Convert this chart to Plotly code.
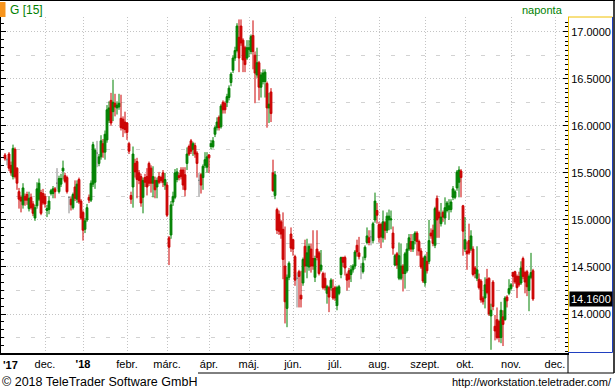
import numpy as np
import pandas as pd
import plotly.graph_objects as go

# ---------------- data ----------------
HOLIDAYS = ["2017-12-25", "2017-12-26", "2018-01-01", "2018-03-30", "2018-04-02", "2018-05-01"]
FIRST_DAY = "2017-11-03"
LAST_DAY = "2018-11-16"

opens = [
    15.69, 15.64, 15.70, 15.58, 15.46, 15.75, 15.55, 15.30, 15.24, 15.16, 15.25, 15.27, 15.12, 15.24, 15.17,
    15.02, 15.15, 15.22, 15.29, 15.28, 15.25, 15.10, 15.11, 15.28, 15.28, 15.33, 15.39, 15.30, 15.38, 15.52,
    15.47, 15.45, 15.24, 15.22, 15.13, 15.35, 15.22, 15.43, 15.20, 15.08, 14.90, 15.00, 15.24, 15.21, 15.38,
    15.40, 15.71, 15.60, 15.67, 15.81, 15.72, 15.85, 16.06, 16.27, 16.15, 16.24, 16.19, 16.20, 16.08, 16.07,
    16.04, 16.03, 15.81, 15.26, 15.35, 15.60, 15.62, 15.50, 15.46, 15.24, 15.45, 15.46, 15.60, 15.55, 15.39,
    15.42, 15.35, 15.46, 15.45, 15.50, 15.37, 15.37, 14.81, 14.84, 15.19, 15.24, 15.43, 15.47, 15.53, 15.53,
    15.48, 15.60, 15.78,
    15.84, 15.75, 15.79, 15.71, 15.42, 15.48, 15.45, 15.58, 15.56, 15.69, 15.78, 15.78, 15.91, 15.98, 16.09,
    15.99, 16.25, 16.24, 16.25, 16.30, 16.46, 16.59, 16.72, 16.80, 16.94, 17.06, 16.91, 16.83, 16.72, 16.81,
    16.79, 16.96, 16.75, 16.54, 16.67, 16.41, 16.47, 16.47, 16.45, 16.19, 16.36, 15.50, 15.26, 15.11, 15.06,
    14.98, 14.90,
    14.51, 14.06, 14.39, 14.85, 14.79, 14.61, 14.38, 14.45, 14.20, 14.33, 14.72, 14.51, 14.50, 14.69, 14.59,
    14.39, 14.69, 14.65, 14.47, 14.43, 14.38, 14.22, 14.28, 14.28, 14.27, 14.28, 14.09, 14.22, 14.42, 14.60,
    14.60, 14.42, 14.46, 14.42, 14.47, 14.51, 14.73, 14.65, 14.50, 14.45, 14.60, 14.76, 14.81, 14.82, 14.78,
    15.00, 15.10, 14.95,
    14.95, 14.81, 14.97, 14.89, 15.00, 15.00, 14.86, 14.52, 14.64, 14.38, 14.38, 14.51, 14.43, 14.46, 14.69,
    14.77, 14.69, 14.78, 14.86, 14.77, 14.67, 14.59, 14.33, 14.56, 14.56, 14.86, 14.89, 14.73, 15.23, 15.08,
    14.96, 15.08, 15.02, 15.10, 15.11, 15.11, 15.24, 15.24, 15.34, 15.40, 15.52, 15.15, 14.69, 14.67, 14.78,
    14.69, 14.69,
    14.49, 14.38, 14.37, 14.35, 14.17, 14.17, 14.37, 14.38, 13.98, 14.34, 13.87, 13.94, 13.92, 13.75, 13.97,
    13.94, 14.18, 14.22, 14.27, 14.44, 14.45, 14.40, 14.40, 14.33, 14.59, 14.44, 14.45, 14.25, 14.39, 14.46,
]
highs = [
    15.71, 15.66, 15.72, 15.62, 15.80, 15.77, 15.56, 15.34, 15.26, 15.39, 15.28, 15.30, 15.30, 15.28, 15.20,
    15.16, 15.40, 15.44, 15.32, 15.33, 15.28, 15.16, 15.25, 15.33, 15.36, 15.35, 15.55, 15.47, 15.49, 15.63,
    15.50, 15.47, 15.25, 15.25, 15.29, 15.42, 15.42, 15.45, 15.22, 15.10, 15.02, 15.17, 15.27, 15.42, 15.83,
    15.76, 15.84, 15.70, 15.90, 15.86, 15.95, 16.22, 16.26, 16.35, 16.49, 16.34, 16.26, 16.34, 16.33, 16.10,
    16.15, 16.04, 15.83, 15.30, 15.78, 15.65, 15.66, 15.53, 15.49, 15.45, 15.49, 15.55, 15.62, 15.58, 15.57,
    15.46, 15.45, 15.51, 15.47, 15.53, 15.50, 15.40, 14.83, 15.20, 15.30, 15.54, 15.55, 15.50, 15.56, 15.56,
    15.56, 15.77, 15.80,
    15.86, 15.83, 15.82, 15.73, 15.50, 15.50, 15.59, 15.72, 15.72, 15.70, 15.85, 15.88, 16.00, 16.09, 16.11,
    16.23, 16.27, 16.26, 16.34, 16.43, 16.57, 16.75, 16.84, 17.09, 17.13, 17.13, 16.93, 16.85, 16.91, 16.91,
    16.97, 17.12, 16.79, 16.83, 16.69, 16.57, 16.60, 16.60, 16.47, 16.35, 16.40, 15.64, 15.52, 15.13, 15.10,
    15.00, 15.08,
    14.93, 14.42, 14.56, 14.92, 14.80, 14.63, 14.44, 14.47, 14.46, 14.60, 14.79, 14.80, 14.75, 14.75, 14.89,
    14.62, 14.89, 14.67, 14.68, 14.45, 14.44, 14.31, 14.30, 14.38, 14.37, 14.30, 14.30, 14.31, 14.61, 14.61,
    14.62, 14.44, 14.49, 14.52, 14.53, 14.68, 14.79, 14.82, 14.54, 14.61, 14.73, 14.92, 14.89, 14.89, 14.98,
    15.29, 15.18, 14.98,
    14.97, 15.10, 14.99, 15.08, 15.11, 15.10, 14.93, 14.64, 14.66, 14.76, 14.75, 14.53, 14.66, 14.75, 14.85,
    14.85, 14.85, 14.88, 14.88, 14.79, 14.70, 14.61, 14.63, 14.66, 15.00, 14.91, 14.95, 15.14, 15.26, 15.10,
    15.18, 15.10, 15.24, 15.20, 15.22, 15.22, 15.36, 15.32, 15.53, 15.57, 15.54, 15.16, 15.03, 14.77, 14.96,
    14.89, 14.72,
    14.51, 14.72, 14.43, 14.37, 14.19, 14.39, 14.48, 14.39, 14.11, 14.36, 13.99, 14.07, 13.94, 14.13, 14.04,
    14.19, 14.20, 14.37, 14.33, 14.45, 14.46, 14.42, 14.45, 14.56, 14.61, 14.46, 14.47, 14.42, 14.65, 14.48,
]
lows = [
    15.63, 15.58, 15.52, 15.47, 15.43, 15.44, 15.32, 15.12, 15.08, 15.12, 15.15, 15.16, 15.09, 15.11, 15.04,
    14.99, 15.12, 15.20, 15.05, 15.16, 15.13, 15.03, 15.06, 15.26, 15.23, 15.23, 15.33, 15.28, 15.35, 15.43,
    15.39, 15.28, 15.07, 15.10, 15.11, 15.20, 15.18, 15.17, 15.00, 14.78, 14.86, 14.98, 15.18, 15.19, 15.35,
    15.33, 15.56, 15.57, 15.64, 15.66, 15.64, 15.82, 16.03, 16.00, 16.05, 16.10, 16.12, 16.17, 15.95, 15.88,
    15.92, 15.85, 15.70, 15.17, 15.13, 15.45, 15.23, 15.38, 15.14, 15.07, 15.35, 15.26, 15.36, 15.29, 15.24,
    15.23, 15.23, 15.38, 15.39, 15.35, 15.32, 15.03, 14.52, 14.80, 15.15, 15.22, 15.40, 15.42, 15.43, 15.32,
    15.25, 15.53, 15.68,
    15.70, 15.68, 15.66, 15.45, 15.25, 15.28, 15.32, 15.55, 15.50, 15.50, 15.75, 15.76, 15.88, 15.95, 15.95,
    15.97, 16.13, 16.13, 16.20, 16.27, 16.42, 16.56, 16.69, 16.78, 16.57, 16.85, 16.57, 16.57, 16.70, 16.73,
    16.76, 16.60, 16.24, 16.51, 16.27, 16.30, 16.44, 16.30, 15.98, 16.03, 16.04, 15.30, 15.22, 14.85, 14.84,
    14.80, 14.37,
    13.90, 13.86, 14.36, 14.66, 14.62, 14.30, 14.07, 14.07, 14.07, 14.30, 14.44, 14.38, 14.46, 14.44, 14.47,
    14.34, 14.57, 14.41, 14.45, 14.26, 14.25, 14.11, 14.02, 14.25, 14.15, 14.14, 14.04, 14.20, 14.38, 14.50,
    14.41, 14.25, 14.28, 14.34, 14.44, 14.48, 14.61, 14.58, 14.37, 14.43, 14.57, 14.74, 14.73, 14.73, 14.75,
    14.97, 14.96, 14.76,
    14.70, 14.76, 14.79, 14.86, 14.89, 14.90, 14.63, 14.51, 14.48, 14.36, 14.36, 14.24, 14.27, 14.44, 14.67,
    14.66, 14.66, 14.74, 14.62, 14.62, 14.48, 14.33, 14.29, 14.43, 14.53, 14.80, 14.72, 14.70, 14.81, 14.81,
    14.93, 14.98, 14.95, 15.08, 15.00, 15.08, 15.21, 15.22, 15.31, 15.24, 15.24, 14.62, 14.66, 14.47, 14.63,
    14.67, 14.40,
    14.38, 14.35, 14.26, 14.12, 14.10, 14.06, 14.21, 13.98, 13.62, 14.04, 13.72, 13.73, 13.70, 13.69, 13.66,
    13.93, 14.07, 14.20, 14.25, 14.29, 14.32, 14.17, 14.29, 14.31, 14.37, 14.22, 14.19, 14.03, 14.37, 14.14,
]
closes = [
    15.65, 15.64, 15.55, 15.50, 15.76, 15.46, 15.39, 15.22, 15.20, 15.34, 15.21, 15.21, 15.23, 15.13, 15.07,
    15.13, 15.33, 15.39, 15.07, 15.18, 15.17, 15.12, 15.20, 15.31, 15.33, 15.30, 15.39, 15.44, 15.44, 15.55,
    15.41, 15.30, 15.24, 15.16, 15.27, 15.23, 15.38, 15.19, 15.02, 14.89, 14.99, 15.13, 15.21, 15.39, 15.80,
    15.74, 15.71, 15.67, 15.84, 15.72, 15.91, 16.17, 16.19, 16.03, 16.25, 16.20, 16.22, 16.24, 15.98, 15.97,
    15.96, 15.93, 15.73, 15.22, 15.70, 15.51, 15.43, 15.42, 15.18, 15.42, 15.40, 15.35, 15.39, 15.39, 15.46,
    15.32, 15.42, 15.40, 15.42, 15.40, 15.43, 15.05, 14.71, 15.16, 15.25, 15.50, 15.51, 15.45, 15.46, 15.37,
    15.32, 15.70, 15.70,
    15.73, 15.81, 15.70, 15.60, 15.42, 15.37, 15.57, 15.64, 15.67, 15.66, 15.81, 15.84, 15.98, 16.04, 15.98,
    16.21, 16.17, 16.17, 16.31, 16.40, 16.55, 16.72, 16.80, 17.06, 16.72, 16.88, 16.70, 16.65, 16.83, 16.83,
    16.95, 16.79, 16.56, 16.67, 16.41, 16.54, 16.56, 16.57, 16.19, 16.23, 16.13, 15.31, 15.48, 14.89, 14.88,
    14.85, 14.58,
    14.13, 14.39, 14.54, 14.70, 14.69, 14.36, 14.38, 14.40, 14.16, 14.58, 14.51, 14.65, 14.72, 14.51, 14.51,
    14.59, 14.60, 14.43, 14.52, 14.28, 14.28, 14.29, 14.18, 14.36, 14.17, 14.17, 14.28, 14.29, 14.60, 14.55,
    14.49, 14.36, 14.37, 14.47, 14.51, 14.66, 14.66, 14.61, 14.50, 14.54, 14.71, 14.83, 14.76, 14.82, 14.96,
    15.20, 15.05, 14.81,
    14.82, 14.98, 14.89, 15.04, 15.04, 15.01, 14.70, 14.62, 14.52, 14.62, 14.51, 14.43, 14.64, 14.69, 14.81,
    14.69, 14.77, 14.86, 14.77, 14.67, 14.50, 14.35, 14.61, 14.46, 14.78, 14.83, 14.75, 15.12, 15.00, 15.02,
    15.03, 15.03, 15.13, 15.18, 15.15, 15.19, 15.33, 15.30, 15.51, 15.53, 15.45, 14.88, 14.79, 14.64, 14.65,
    14.83, 14.42,
    14.43, 14.47, 14.28, 14.15, 14.13, 14.31, 14.23, 14.00, 14.04, 14.08, 13.82, 13.75, 13.75, 14.04, 13.89,
    14.17, 14.14, 14.27, 14.31, 14.40, 14.34, 14.28, 14.31, 14.49, 14.40, 14.34, 14.29, 14.40, 14.44, 14.16,
]

month_labels = ["'17", "dec.", "'18", "febr.", "márc.", "ápr.", "máj.", "jún.",
                "júl.", "aug.", "szept.", "okt.", "nov.", "dec."]
y_tick_start, y_tick_step = 14.0, 0.5
header_left = "G [15]"
header_right = "naponta"
footer_left = "© 2018 TeleTrader Software GmbH"
footer_right = "http://workstation.teletrader.com/"

# ---------------- preparation ----------------
cal = pd.bdate_range("2017-11-01", "2018-12-31", freq="C", holidays=HOLIDAYS)
dates = cal[(cal >= FIRST_DAY) & (cal <= LAST_DAY)]
n = len(opens)
if not (len(dates) == n == len(highs) == len(lows) == len(closes)):
    raise SystemExit(f"length mismatch {len(dates)} {len(opens)} {len(highs)} {len(lows)} {len(closes)}")
pos = np.asarray(cal.get_indexer(dates))
month_start = [i for i in range(len(cal)) if i == 0 or cal[i].month != cal[i - 1].month]

o = np.array(opens); h = np.array(highs); l = np.array(lows); c = np.array(closes)
flat = np.isclose(o, c)
moving = ~flat

GREEN = "#008000"
RED = "#cc0000"
GRAY = "#888888"
GRID = "#c4c4c4"
FONT = "Liberation Sans, Arial, sans-serif"

# pixel helpers for decorations (plot area: x 1..568, y 17..353)
L, T, W, H = 1, 17, 567, 336
def px(x):
    return (x - L) / W
def py(y):
    return (T + H - y) / H

y_range = [13.586, 17.156]
x_range = [0, 283.5]

fig = go.Figure()
fig.add_trace(go.Candlestick(
    x=pos[moving], open=o[moving], high=h[moving], low=l[moving], close=c[moving],
    increasing=dict(line=dict(color=GREEN, width=1), fillcolor=GREEN),
    decreasing=dict(line=dict(color=RED, width=1), fillcolor=RED),
    whiskerwidth=0, hoverinfo="skip", showlegend=False))
fig.add_trace(go.Candlestick(
    x=pos[flat], open=o[flat], high=h[flat], low=l[flat], close=c[flat],
    increasing=dict(line=dict(color=GRAY, width=1), fillcolor=GRAY),
    decreasing=dict(line=dict(color=GRAY, width=1), fillcolor=GRAY),
    whiskerwidth=0, hoverinfo="skip", showlegend=False))
fig.add_trace(go.Scatter(x=[], y=[], yaxis="y2", showlegend=False))
fig.add_trace(go.Scatter(x=[], y=[], yaxis="y3", showlegend=False))

ticktext = [f"<b>{t}</b>" if t.startswith("'") else t for t in month_labels]

fig.update_layout(
    width=615, height=390,
    margin=dict(l=L, r=615 - L - W, t=T, b=390 - T - H, pad=0),
    paper_bgcolor="white", plot_bgcolor="white",
    showlegend=False, boxgap=0.1, boxgroupgap=0,
    font=dict(family=FONT, size=11, color="black"),
    xaxis=dict(range=x_range, tickvals=month_start[1:], ticktext=ticktext[1:],
               showgrid=True, gridcolor=GRID, griddash="1px,2px", gridwidth=1,
               showline=True, linecolor="black", linewidth=2, ticks="",
               zeroline=False, rangeslider=dict(visible=False),
               tickfont=dict(size=11, family=FONT, color="black")),
    yaxis=dict(side="right", range=y_range, tick0=y_tick_start, dtick=y_tick_step,
               tickformat=".4f", showgrid=True, gridcolor=GRID, griddash="1px,2px",
               ticks="inside", ticklen=5, tickcolor="black", tickwidth=1,
               showline=True, linecolor="#f0c000", linewidth=1, zeroline=False,
               minor=dict(ticks="inside", ticklen=3, dtick=0.05, tickcolor="black", showgrid=False),
               tickfont=dict(size=11, family=FONT, color="black")),
    yaxis2=dict(overlaying="y", side="right", range=y_range, tick0=y_tick_start - 0.25,
                dtick=y_tick_step, showgrid=True, gridcolor="#d2d2d2", griddash="4px,11px",
                showticklabels=False, ticks="", zeroline=False, showline=False),
    yaxis3=dict(overlaying="y", side="left", range=y_range, tick0=y_tick_start, dtick=y_tick_step,
                ticks="inside", ticklen=5, tickcolor="black", tickwidth=1,
                minor=dict(ticks="inside", ticklen=3, dtick=y_tick_step / 6, tickcolor="black"),
                showgrid=False, showticklabels=False, showline=True, linecolor="black",
                linewidth=2, zeroline=False),
)

annotations = [
    dict(text=header_left, xref="paper", yref="paper", x=px(8), y=py(10), xanchor="left",
         yanchor="middle", showarrow=False, font=dict(size=12, color=GREEN, family=FONT)),
    dict(text=header_right, xref="paper", yref="paper", x=px(565), y=py(10), xanchor="right",
         yanchor="middle", showarrow=False, font=dict(size=11, color=GREEN, family=FONT)),
    dict(text=ticktext[0], xref="x", yref="paper", x=month_start[0], y=py(365), xanchor="left",
         yanchor="middle", showarrow=False, font=dict(size=11, color="black", family=FONT)),
    dict(text=f"{closes[-1]:.4f}", xref="paper", yref="y", x=1, y=closes[-1], xanchor="left",
         xshift=1, yanchor="middle", showarrow=False, bgcolor="black", borderpad=1,
         font=dict(size=11, color="white", family=FONT)),
    dict(text=footer_left, xref="paper", yref="paper", x=px(0), y=py(382), xanchor="left",
         yanchor="middle", showarrow=False, font=dict(size=12.5, color="black", family=FONT)),
    dict(text=footer_right, xref="paper", yref="paper", x=px(614), y=py(382), xanchor="right",
         yanchor="middle", showarrow=False, font=dict(size=11, color="black", family=FONT)),
]
fig.update_layout(annotations=annotations)

def line(x0, y0, x1, y1, color, width=1):
    return dict(type="line", xref="paper", yref="paper", x0=px(x0), y0=py(y0),
                x1=px(x1), y1=py(y1), line=dict(color=color, width=width), layer="above")

shapes = [
    dict(type="rect", xref="paper", yref="paper", x0=px(0), x1=px(5.5), y0=py(17), y1=py(2),
         fillcolor="#f7941d", line=dict(width=0), layer="above"),
    line(0, 0.5, 615, 0.5, "black"),
    line(614, 0, 614, 373, "black", 1.5),
    line(568, 17, 612.5, 17, "#f0c000"),
    line(612.5, 17, 612.5, 352.5, "#2040c0"),
    line(568, 352.5, 612.5, 352.5, "#2040c0"),
    line(568, 353, 568, 373, "black"),
    line(198, 373, 614, 373, "black"),
]
fig.update_layout(shapes=shapes)

fig.write_html("out.html", config={"displayModeBar": False},
               post_script="document.body.style.margin='0';document.body.style.overflow='hidden';")
